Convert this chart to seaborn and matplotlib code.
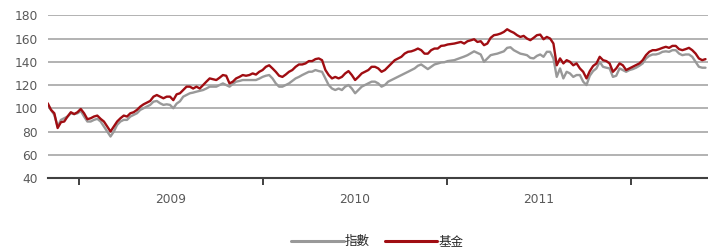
import pandas as pd
import numpy as np
import matplotlib
matplotlib.use("Agg")
import matplotlib.pyplot as plt
import matplotlib.dates as mdates
import seaborn as sns

# ---------------------------------------------------------
# DATA
# ---------------------------------------------------------

fund = [
    104.3, 98.6, 95.7, 83.0, 88.0, 88.6, 92.9, 96.6, 95.0, 96.6,
    99.4, 95.7, 90.6, 91.4, 92.9, 93.7, 90.9, 88.6, 84.3, 80.0,
    84.3, 88.6, 91.4, 93.7, 92.9, 95.7, 96.6, 98.6, 101.4, 103.4,
    104.9, 106.3, 110.0, 111.4, 110.0, 108.6, 110.0, 110.0, 107.0, 112.0,
    112.9, 115.7, 118.6, 118.6, 117.0, 118.6, 117.0, 120.0, 122.9, 125.7,
    125.0, 124.3, 126.3, 128.6, 128.0, 121.4, 122.9, 125.7, 127.0, 128.6,
    128.0, 128.6, 130.0, 129.0, 131.4, 132.9, 135.7, 137.0, 134.3, 131.4,
    128.0, 127.0, 129.0, 131.4, 132.9, 135.7, 137.7, 137.7, 138.6, 140.6,
    140.6, 142.3, 142.9, 141.4, 133.0, 128.6, 125.7, 127.0, 125.7, 127.0,
    130.0, 132.0, 128.6, 124.3, 127.0, 130.0, 131.4, 132.9, 135.7, 135.7,
    134.3, 131.4, 132.9, 135.7, 138.6, 141.4, 142.9, 144.3, 147.1, 148.6,
    149.0, 150.0, 151.4, 150.0, 147.0, 147.0, 150.0, 151.4, 151.4, 153.7,
    154.0, 154.9, 155.3, 155.7, 156.4, 157.1, 155.7, 157.7, 158.5, 159.4,
    157.1, 157.7, 154.3, 155.7, 160.6, 162.9, 163.4, 164.3, 165.7, 168.0,
    166.3, 165.0, 162.9, 161.4, 162.3, 160.0, 158.6, 160.6, 162.9, 163.4,
    159.4, 161.4, 160.0, 155.7, 137.0, 142.9, 138.6, 141.4, 140.0, 137.0,
    138.6, 134.3, 131.4, 125.7, 132.0, 136.4, 138.5, 144.3, 141.4, 140.6,
    138.6, 131.4, 134.3, 138.6, 137.0, 132.9, 134.3, 135.7, 137.0, 138.6,
    141.4, 145.7, 148.6, 150.0, 150.0, 150.9, 152.0, 152.9, 152.0, 153.7,
    153.7, 150.9, 150.0, 150.9, 152.0, 150.0, 147.1, 142.9, 141.4, 142.3,
]

index = [
    102.9, 98.6, 94.3, 84.3, 90.0, 91.5, 92.9, 95.7, 95.0, 95.7,
    97.7, 92.9, 88.6, 88.6, 90.0, 90.9, 88.6, 84.3, 80.0, 75.7,
    80.0, 85.7, 88.6, 90.0, 90.0, 92.9, 94.3, 95.7, 98.6, 100.0,
    101.4, 102.9, 105.7, 106.3, 104.3, 102.9, 103.4, 102.9, 100.0, 104.0,
    106.0, 110.0, 111.5, 112.9, 113.5, 114.3, 115.0, 115.7, 117.0, 118.6,
    118.6, 118.6, 120.0, 121.4, 120.0, 118.6, 121.0, 122.9, 123.5, 124.3,
    124.3, 124.3, 124.3, 124.3, 125.5, 127.0, 128.0, 128.6, 125.7, 121.4,
    118.6, 118.6, 120.0, 121.4, 123.5, 125.7, 127.0, 128.6, 130.0, 131.4,
    131.5, 132.9, 132.0, 131.4, 125.7, 120.0, 117.0, 115.7, 117.0, 115.7,
    118.6, 120.0, 117.0, 112.9, 115.7, 118.6, 120.0, 121.4, 122.9, 122.9,
    121.4, 118.6, 120.0, 122.9, 124.3, 125.7, 127.0, 128.6, 130.0, 131.4,
    132.9, 134.3, 136.6, 137.7, 135.7, 133.7, 135.7, 137.7, 138.5, 139.4,
    139.6, 140.6, 141.0, 141.4, 142.4, 143.4, 144.5, 145.7, 147.4, 149.0,
    147.6, 146.3, 140.0, 142.9, 145.7, 146.4, 147.0, 148.0, 149.0, 152.0,
    152.5, 150.0, 148.5, 147.0, 146.4, 145.7, 143.4, 142.9, 145.1, 146.3,
    144.3, 148.6, 148.6, 142.9, 127.0, 134.3, 125.7, 131.4, 130.0, 127.0,
    128.6, 128.6, 122.9, 120.0, 128.0, 132.0, 134.3, 140.0, 135.7, 134.9,
    134.3, 127.0, 128.0, 134.3, 132.9, 131.4, 132.9, 133.7, 134.9, 136.6,
    138.6, 142.9, 145.1, 146.3, 146.3, 147.1, 148.6, 149.0, 148.6, 150.0,
    150.0, 147.1, 145.7, 146.3, 146.3, 144.3, 140.0, 135.7, 134.9, 134.9,
]

series_names = ["指數", "基金"]
series_colors = ["#999999", "#a00d12"]
y_ticks = [40, 60, 80, 100, 120, 140, 160, 180]

dates = pd.date_range("2008-10-30", "2012-05-28", periods=len(fund))

df = pd.concat([
    pd.DataFrame({"date": dates, "value": index, "series": series_names[0]}),
    pd.DataFrame({"date": dates, "value": fund, "series": series_names[1]}),
])

# ---------------------------------------------------------
# PLOT
# ---------------------------------------------------------

sns.set_style("white")
plt.rcParams["font.family"] = ["DejaVu Sans", "Noto Sans CJK TC"]

fig = plt.figure(figsize=(7.08, 2.47), dpi=100)
ax = fig.add_axes([0.0674, 0.2794, 0.9326, 0.6586])

sns.lineplot(
    data=df,
    x="date",
    y="value",
    hue="series",
    hue_order=series_names,
    palette=series_colors,
    linewidth=1.7,
    ax=ax,
    legend=False,
)

ax.set_ylim(40, 180)
ax.set_yticks(y_ticks)
ax.set_xlim(pd.Timestamp("2008-10-30"), pd.Timestamp("2012-06-02"))

for v in y_ticks[1:]:
    ax.axhline(v, color="#a6a6a6", linewidth=1.2, zorder=0)

for side in ["top", "right", "left"]:
    ax.spines[side].set_visible(False)
ax.spines["bottom"].set_color("#404040")
ax.spines["bottom"].set_linewidth(1.5)

ax.xaxis.set_major_locator(mdates.YearLocator())
ax.xaxis.set_major_formatter(plt.NullFormatter())
ax.xaxis.set_minor_locator(mdates.MonthLocator(bymonth=7, bymonthday=2))
ax.xaxis.set_minor_formatter(mdates.DateFormatter("%Y"))
ax.tick_params(axis="x", which="major", bottom=True, length=5, width=1.2,
               color="#202020", direction="out")
ax.tick_params(axis="x", which="minor", bottom=True, length=0, pad=11,
               labelsize=8.8, labelcolor="#595959")
ax.tick_params(axis="y", left=True, length=0, pad=7, labelsize=8.8,
               labelcolor="#595959")

ax.set_xlabel("")
ax.set_ylabel("")

handles = [plt.Line2D([], [], color=c, linewidth=2.2) for c in series_colors]
fig.legend(
    handles,
    series_names,
    loc="lower center",
    bbox_to_anchor=(0.533, -0.05),
    ncol=2,
    frameon=False,
    handlelength=4.2,
    handletextpad=0.1,
    columnspacing=1.2,
    prop={"family": ["Noto Sans CJK TC"], "size": 9},
)

fig.savefig("out.png", dpi=100)
